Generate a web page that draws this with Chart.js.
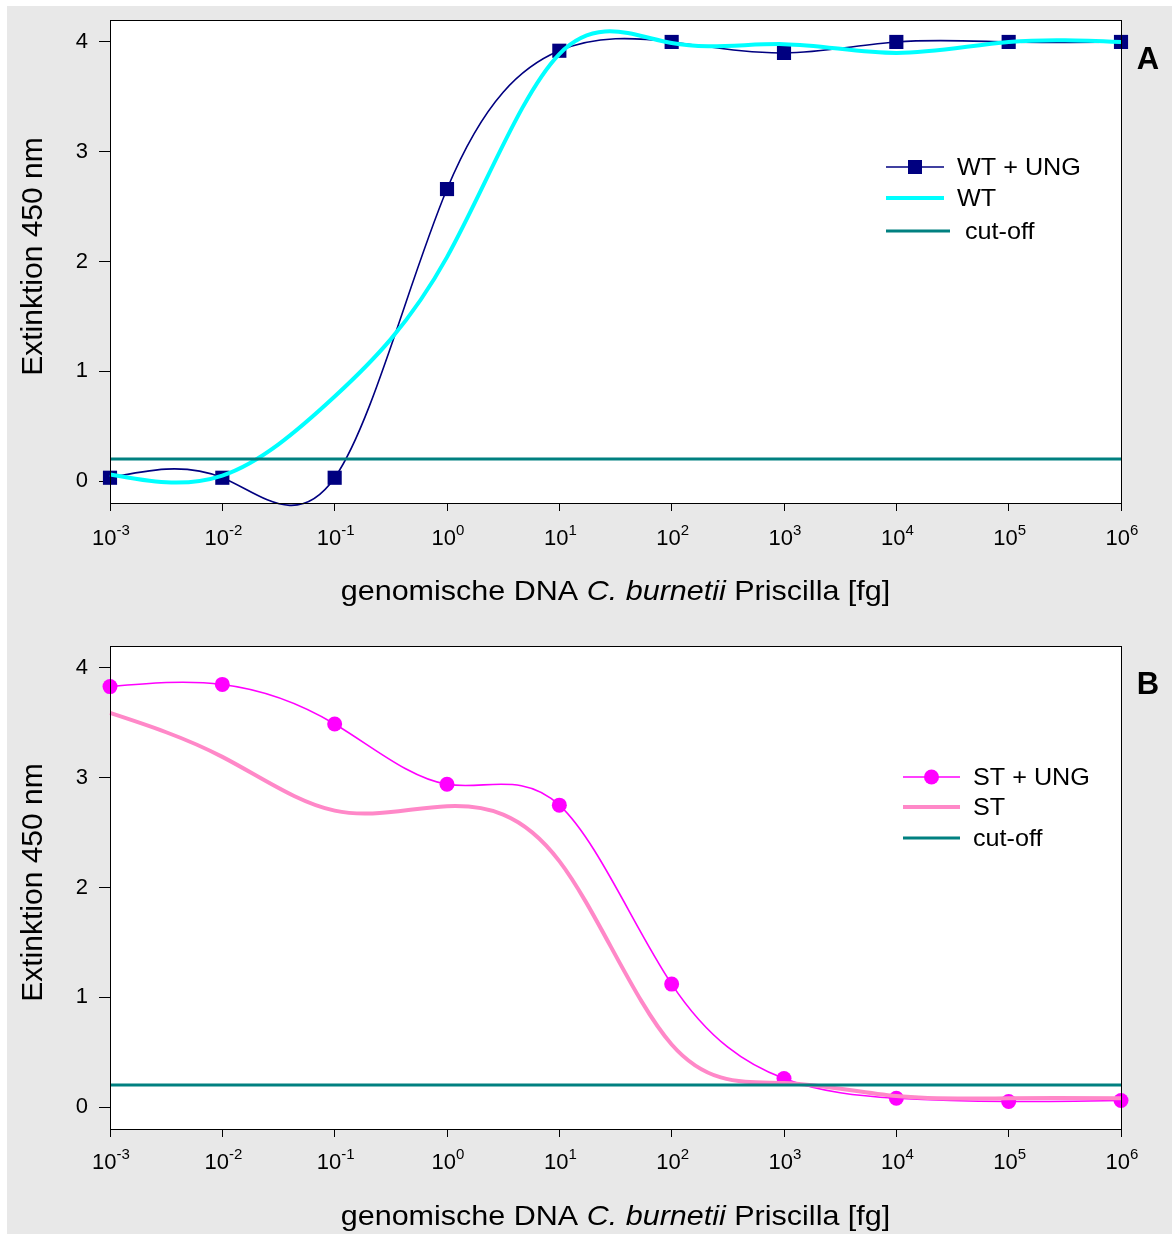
<!DOCTYPE html>
<html>
<head>
<meta charset="utf-8">
<script src="https://cdn.jsdelivr.net/npm/chart.js@4.4.1/dist/chart.umd.min.js"></script>
<style>
  body { margin: 0; background: #fff; }
  #wrap { position: absolute; left: 7px; top: 6px; width: 1165px; height: 1228px; background: #e8e8e8; }
  canvas { display: block; }
</style>
</head>
<body>
<div id="wrap">
  <canvas id="chartA" width="1165" height="614"></canvas>
  <canvas id="chartB" width="1165" height="614"></canvas>
</div>
<script>
const FONT = "'Liberation Sans', Arial, sans-serif";

// x values: genomic DNA amount in fg (log scale, one point per decade)
const doses = [1e-3, 1e-2, 1e-1, 1, 1e1, 1e2, 1e3, 1e4, 1e5, 1e6];
const yTicks = [0, 1, 2, 3, 4];
const cutoff = [0.2, 0.2, 0.2, 0.2, 0.2, 0.2, 0.2, 0.2, 0.2, 0.2];

// panel A
const wtUng = [0.03, 0.03, 0.03, 2.66, 3.92, 4.0, 3.90, 4.0, 4.0, 4.0];
const wt    = [0.06, 0.05, 0.77, 2.04, 3.89, 3.99, 3.98, 3.90, 4.0, 4.0];
// panel B
const stUng = [3.83, 3.85, 3.49, 2.94, 2.75, 1.12, 0.26, 0.08, 0.05, 0.06];
const st    = [3.59, 3.19, 2.70, 2.74, 2.24, 0.57, 0.22, 0.10, 0.08, 0.08];

const pts = arr => arr.map((v, i) => ({x: doses[i], y: v}));

// smooth lines like the spreadsheet did: natural cubic spline through the points
const splinePlugin = {
  id: 'spline',
  beforeDatasetDraw(chart, args) {
    const meta = args.meta;
    const line = meta.dataset;
    if (!line || !line.options.tension) return;
    const p = meta.data;
    const n = p.length;
    if (n < 3) return;
    const h = [], d = [];
    for (let i = 0; i < n - 1; i++) {
      h[i] = p[i + 1].x - p[i].x;
      d[i] = (p[i + 1].y - p[i].y) / h[i];
    }
    // tridiagonal system for slopes m
    const a = [], b = [], c = [], r = [];
    b[0] = 2; c[0] = 1; r[0] = 3 * d[0]; a[0] = 0;
    for (let i = 1; i < n - 1; i++) {
      a[i] = 1 / h[i - 1];
      b[i] = 2 * (1 / h[i - 1] + 1 / h[i]);
      c[i] = 1 / h[i];
      r[i] = 3 * (d[i - 1] / h[i - 1] + d[i] / h[i]);
    }
    a[n - 1] = 1; b[n - 1] = 2; c[n - 1] = 0; r[n - 1] = 3 * d[n - 2];
    for (let i = 1; i < n; i++) {
      const w = a[i] / b[i - 1];
      b[i] -= w * c[i - 1];
      r[i] -= w * r[i - 1];
    }
    const m = [];
    m[n - 1] = r[n - 1] / b[n - 1];
    for (let i = n - 2; i >= 0; i--) m[i] = (r[i] - c[i] * m[i + 1]) / b[i];
    for (let i = 0; i < n; i++) {
      const hp = i > 0 ? h[i - 1] : 0;
      const hn = i < n - 1 ? h[i] : 0;
      p[i].cp1x = p[i].x - hp / 3;
      p[i].cp1y = p[i].y - m[i] * hp / 3;
      p[i].cp2x = p[i].x + hn / 3;
      p[i].cp2y = p[i].y + m[i] * hn / 3;
    }
    line._pointsUpdated = true;
  }
};

const panelPlugin = {
  id: 'panel',
  beforeDraw(chart) {
    const {ctx, chartArea: a} = chart;
    ctx.save();
    ctx.fillStyle = '#e8e8e8';
    ctx.fillRect(0, 0, chart.width, chart.height);
    ctx.fillStyle = '#fff';
    ctx.fillRect(a.left, a.top, a.right - a.left, a.bottom - a.top);
    ctx.restore();
  },
  afterDraw(chart, args, opts) {
    const {ctx, chartArea: a} = chart;
    const xs = chart.scales.x;
    ctx.save();
    // frame
    ctx.strokeStyle = '#000';
    ctx.lineWidth = 1;
    ctx.strokeRect(Math.round(a.left) + 0.5, Math.round(a.top) + 0.5,
                   Math.round(a.right - a.left), Math.round(a.bottom - a.top));

    // x tick labels 10^n
    ctx.fillStyle = '#000';
    ctx.textBaseline = 'alphabetic';
    ctx.textAlign = 'left';
    xs.ticks.forEach(t => {
      const px = xs.getPixelForValue(t.value);
      const e = String(Math.round(Math.log10(t.value)));
      ctx.font = '22px ' + FONT;
      const w1 = ctx.measureText('10').width;
      ctx.font = '15px ' + FONT;
      const w2 = ctx.measureText(e).width;
      const x0 = px - (w1 + w2) / 2 + 1;
      ctx.font = '22px ' + FONT;
      ctx.fillText('10', x0, a.bottom + opts.tickBase);
      ctx.font = '15px ' + FONT;
      ctx.fillText(e, x0 + w1, a.bottom + opts.tickBase - 10);
    });

    // x title with italic species name (slightly wide, as in the original)
    const parts = [['genomische DNA ', ''], ['C. burnetii', 'italic '], [' Priscilla [fg]', '']];
    let total = 0;
    parts.forEach(p => { ctx.font = p[1] + '28px ' + FONT; total += ctx.measureText(p[0]).width; });
    ctx.save();
    ctx.translate((a.left + a.right) / 2, a.bottom + opts.titleBase);
    ctx.scale(1.09, 1);
    let tx = -total / 2;
    parts.forEach(p => {
      ctx.font = p[1] + '28px ' + FONT;
      ctx.fillText(p[0], tx, 0);
      tx += ctx.measureText(p[0]).width;
    });
    ctx.restore();

    // y title
    ctx.save();
    ctx.translate(35, (a.top + a.bottom) / 2 - 5);
    ctx.rotate(-Math.PI / 2);
    ctx.textAlign = 'center';
    ctx.textBaseline = 'alphabetic';
    ctx.font = '30px ' + FONT;
    ctx.fillText('Extinktion 450 nm', 0, 0);
    ctx.restore();

    // panel letter
    ctx.font = 'bold 31px ' + FONT;
    ctx.textAlign = 'center';
    ctx.textBaseline = 'middle';
    ctx.fillText(opts.letter, 1141, opts.letterY);

    // legend
    ctx.textAlign = 'left';
    opts.legend.forEach(it => {
      ctx.strokeStyle = it.color;
      ctx.lineWidth = it.width;
      ctx.beginPath();
      ctx.moveTo(it.x0, it.y);
      ctx.lineTo(it.x1, it.y);
      ctx.stroke();
      ctx.fillStyle = it.color;
      const mx = (it.x0 + it.x1) / 2;
      if (it.marker === 'rect') ctx.fillRect(mx - 7, it.y - 7, 14, 14);
      if (it.marker === 'circle') { ctx.beginPath(); ctx.arc(mx, it.y, 7.5, 0, Math.PI * 2); ctx.fill(); }
      ctx.fillStyle = '#000';
      ctx.save();
      ctx.translate(it.tx, it.y + 1);
      ctx.scale(1.05, 1);
      ctx.font = '24px ' + FONT;
      ctx.fillText(it.label, 0, 0);
      ctx.restore();
    });
    ctx.restore();
  }
};

function noPad(s) {
  s.paddingTop = 0; s.paddingBottom = 0; s.paddingLeft = 0; s.paddingRight = 0;
}

function makeChart(id, datasets, padTop, xHeight, panelOpts) {
  return new Chart(document.getElementById(id), {
    type: 'line',
    data: {datasets: datasets},
    plugins: [splinePlugin, panelPlugin],
    options: {
      responsive: false,
      animation: false,
      events: [],
      layout: {padding: {top: padTop, right: 51, left: 0, bottom: 0}},
      plugins: {legend: {display: false}, tooltip: {enabled: false}, panel: panelOpts},
      scales: {
        x: {
          type: 'logarithmic', min: 1e-3, max: 1e6,
          afterBuildTicks: s => { s.ticks = doses.map(v => ({value: v})); },
          afterFit: s => { s.height = xHeight; noPad(s); },
          ticks: {display: false},
          grid: {drawOnChartArea: false, drawTicks: true, tickLength: 8, color: '#000'},
          border: {color: '#000', width: 1}
        },
        y: {
          min: -0.2, max: 4.2,
          afterBuildTicks: s => { s.ticks = yTicks.map(v => ({value: v})); },
          afterFit: s => { s.width = 103; noPad(s); },
          ticks: {color: '#000', font: {family: FONT, size: 22}, padding: 11},
          grid: {drawOnChartArea: false, drawTicks: true, tickLength: 11, color: '#000'},
          border: {color: '#000', width: 1}
        }
      }
    }
  });
}

makeChart('chartA', [
  {label: 'cut-off', data: pts(cutoff), borderColor: '#008080', borderWidth: 3, pointRadius: 0, order: 0, clip: 10},
  {label: 'WT', data: pts(wt), borderColor: '#00ffff', borderWidth: 4, pointRadius: 0, tension: 0.4, order: 1, clip: 10},
  {label: 'WT + UNG', data: pts(wtUng), borderColor: '#000080', borderWidth: 1.6, tension: 0.4,
   pointStyle: 'rect', pointRadius: 10, pointBorderWidth: 0, pointBackgroundColor: '#000080', order: 2, clip: 10}
], 14, 117, {
  letter: 'A', letterY: 54, tickBase: 42, titleBase: 97,
  legend: [
    {label: 'WT + UNG', color: '#000080', width: 1.6, marker: 'rect', x0: 879, x1: 937, y: 161, tx: 950},
    {label: 'WT', color: '#00ffff', width: 4, x0: 879, x1: 937, y: 192, tx: 950},
    {label: 'cut-off', color: '#008080', width: 3, x0: 879, x1: 943, y: 225, tx: 958}
  ]
});

makeChart('chartB', [
  {label: 'cut-off', data: pts(cutoff), borderColor: '#008080', borderWidth: 3, pointRadius: 0, order: 0, clip: 10},
  {label: 'ST', data: pts(st), borderColor: '#ff88c8', borderWidth: 4, pointRadius: 0, tension: 0.4, order: 1, clip: 10},
  {label: 'ST + UNG', data: pts(stUng), borderColor: '#ff00ff', borderWidth: 1.6, tension: 0.4,
   pointStyle: 'circle', pointRadius: 7.5, pointBorderWidth: 0, pointBackgroundColor: '#ff00ff', order: 2, clip: 10}
], 26, 105, {
  letter: 'B', letterY: 65, tickBase: 40, titleBase: 96,
  legend: [
    {label: 'ST + UNG', color: '#ff00ff', width: 1.6, marker: 'circle', x0: 896, x1: 953, y: 157, tx: 966},
    {label: 'ST', color: '#ff88c8', width: 4, x0: 896, x1: 953, y: 187, tx: 966},
    {label: 'cut-off', color: '#008080', width: 3, x0: 896, x1: 953, y: 218, tx: 966}
  ]
});
</script>
</body>
</html>
